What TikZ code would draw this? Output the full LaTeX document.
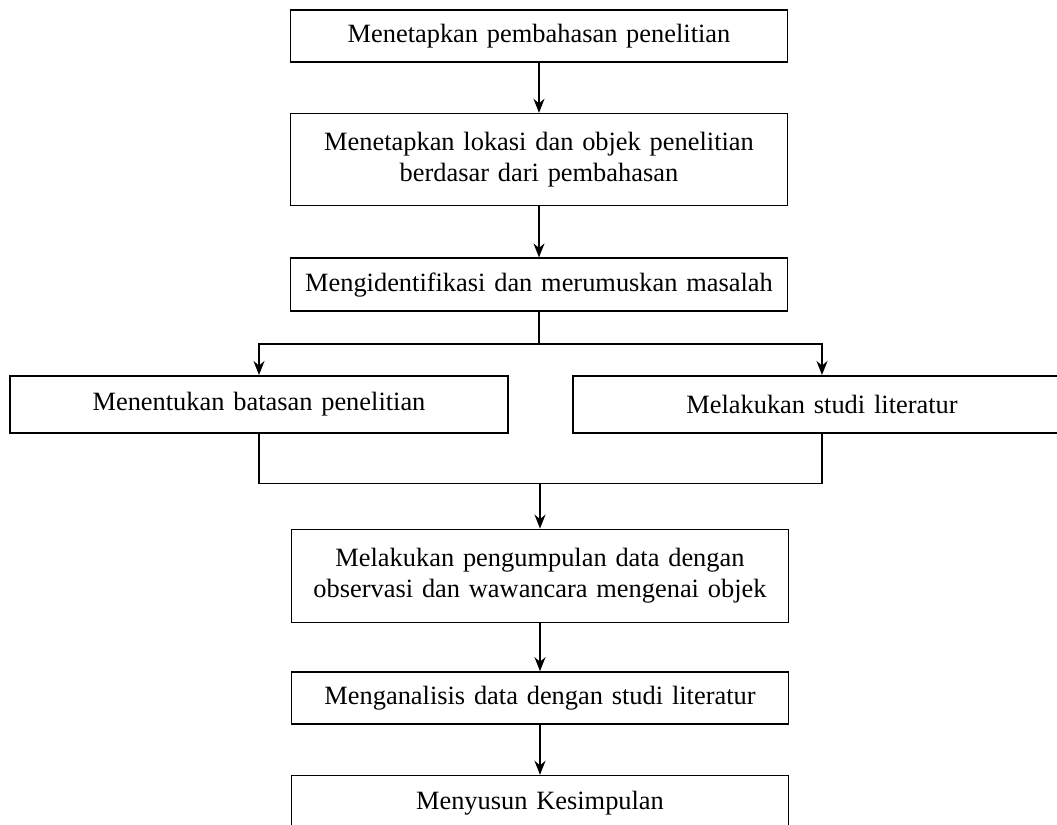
\documentclass[tikz,border=0pt]{standalone}
\usepackage{fontspec}
\setmainfont{Liberation Serif}
\usepackage{tikz}
\usetikzlibrary{arrows.meta,positioning}

\begin{document}
\begin{tikzpicture}[
  node distance=25pt,
  stepbox/.style={draw,line width=0.8pt,align=center,text width=240pt,minimum width=248.5pt,minimum height=26pt,inner sep=0pt,font=\fontsize{13.2}{15.5}\selectfont},
  sidebox/.style={stepbox,text width=240pt,minimum width=249pt,minimum height=28.5pt},
  arr/.style={-{Stealth[length=7pt,width=5.5pt]},line width=0.8pt},
  conn/.style={line width=0.8pt}]
  \useasboundingbox (0,0) rectangle (528.5pt,-412.5pt);
  \node[stepbox] (pembahasan) at (269.5pt,-18pt) {Menetapkan pembahasan penelitian};
  \node[stepbox,minimum height=46pt,below=of pembahasan] (lokasi) {Menetapkan lokasi dan objek penelitian\\berdasar dari pembahasan};
  \node[stepbox,minimum height=26.5pt,below=25.5pt of lokasi] (masalah) {Mengidentifikasi dan merumuskan masalah};
  \node[sidebox,below=31.5pt of masalah,xshift=-140pt] (batasan) {Menentukan batasan penelitian};
  \node[sidebox,below=31.5pt of masalah,xshift=141.5pt] (studi) {Melakukan studi literatur};
  \coordinate[below=16pt of masalah] (cabang);
  \path (batasan.south -| masalah.south) ++(0.5pt,-25pt) coordinate (gabung);
  \node[stepbox,minimum height=46.5pt,below=22.5pt of gabung] (pengumpulan) {Melakukan pengumpulan data dengan\\observasi dan wawancara mengenai objek};
  \node[stepbox,below=24pt of pengumpulan] (analisis) {Menganalisis data dengan studi literatur};
  \node[stepbox,minimum height=28pt,below=of analisis] (kesimpulan) {Menyusun Kesimpulan};
  \draw[arr] (pembahasan)--(lokasi); \draw[arr] (lokasi)--(masalah);
  \draw[conn] (masalah)--(cabang); \draw[arr] (cabang)-|(batasan); \draw[arr] (cabang)-|(studi);
  \draw[conn] (batasan.south)|-(gabung)-|(studi.south); \draw[arr] (gabung)--(pengumpulan);
  \draw[arr] (pengumpulan)--(analisis); \draw[arr] (analisis)--(kesimpulan);
\end{tikzpicture}
\end{document}
